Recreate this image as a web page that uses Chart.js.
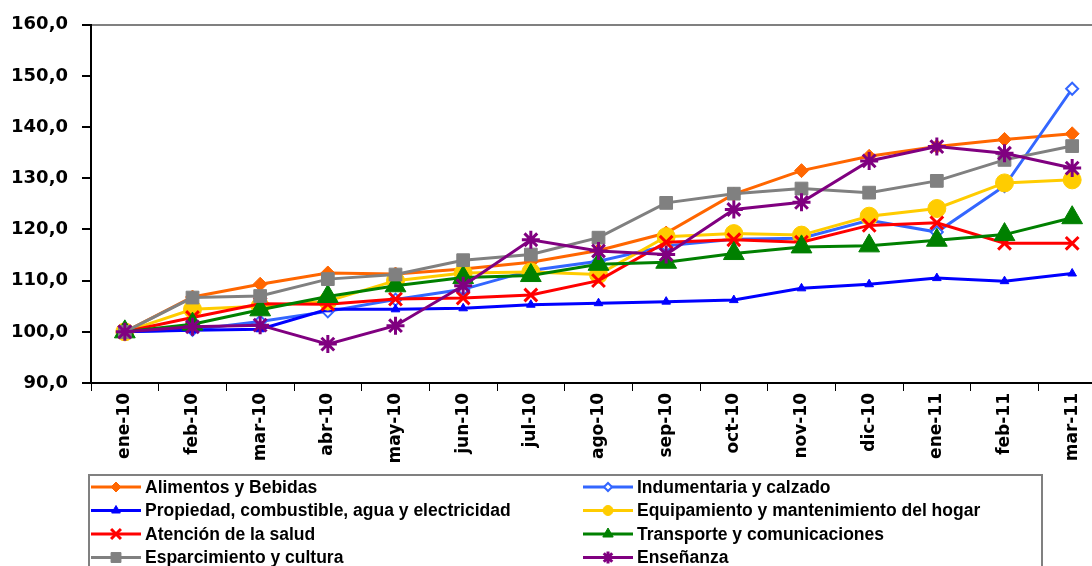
<!DOCTYPE html>
<html>
<head>
<meta charset="utf-8">
<script src="https://cdn.jsdelivr.net/npm/chart.js@4/dist/chart.umd.min.js"></script>
<style>
  html, body { margin: 0; padding: 0; background: #fff; overflow: hidden; }
  #wrap { position: absolute; left: 0; top: 0; width: 1120px; height: 566px; }
</style>
</head>
<body>
<div id="wrap"><canvas id="chart"></canvas></div>
<script>
const months = ['ene-10', 'feb-10', 'mar-10', 'abr-10', 'may-10', 'jun-10', 'jul-10', 'ago-10',
  'sep-10', 'oct-10', 'nov-10', 'dic-10', 'ene-11', 'feb-11', 'mar-11'];

const alimentos    = [100, 106.8, 109.3, 111.5, 111.3, 112.3, 113.6, 115.9, 119.3, 126.9, 131.5, 134.3, 136.2, 137.6, 138.7];
const indumentaria = [100, 100.4, 102.0, 104.0, 106.3, 108.3, 112.0, 113.8, 116.8, 118.1, 118.3, 121.8, 119.5, 128.5, 147.5];
const propiedad    = [100, 100.3, 100.5, 104.4, 104.4, 104.6, 105.3, 105.6, 105.9, 106.2, 108.5, 109.3, 110.5, 109.9, 111.4];
const equipamiento = [100, 104.4, 105.0, 106.0, 110.0, 111.5, 111.7, 111.2, 118.6, 119.2, 118.9, 122.6, 124.1, 129.1, 129.7];
const salud        = [100, 102.8, 105.5, 105.4, 106.4, 106.6, 107.2, 110.0, 117.5, 118.0, 117.5, 120.8, 121.3, 117.3, 117.3];
const transporte   = [100, 101.5, 104.3, 106.9, 109.0, 110.6, 111.0, 113.2, 113.6, 115.3, 116.6, 116.8, 117.9, 119.0, 122.3];
const esparcimiento = [100, 106.7, 107.0, 110.3, 111.2, 114.0, 115.1, 118.4, 125.2, 127.0, 128.0, 127.2, 129.5, 133.6, 136.3];
const ensenanza    = [100, 101.0, 101.3, 97.6, 101.2, 109.0, 118.0, 115.8, 115.1, 123.9, 125.3, 133.4, 136.2, 134.9, 132.0];

const yMin = 90;
const yMax = 160;
const yStep = 10;

function series(label, data, color, style, radius, fill, bw, legendRadius) {
  return {
    label: label,
    data: data,
    borderColor: color,
    backgroundColor: color,
    borderWidth: 3,
    pointStyle: style,
    pointRadius: radius,
    pointHoverRadius: radius,
    pointBackgroundColor: fill,
    pointBorderColor: color,
    pointBorderWidth: bw,
    legendRadius: legendRadius,
    tension: 0
  };
}

const datasets = [
  series('Alimentos y Bebidas', alimentos, '#FF6600', 'rectRot', 7, '#FF6600', 1, 5),
  series('Indumentaria y calzado', indumentaria, '#3366FF', 'rectRot', 6, '#FFFFFF', 2, 4),
  series('Propiedad, combustible, agua y electricidad', propiedad, '#0000FF', 'triangle', 5, '#0000FF', 1, 5),
  series('Equipamiento y mantenimiento del hogar', equipamiento, '#FFCC00', 'circle', 9, '#FFCC00', 1, 5),
  series('Atención de la salud', salud, '#FF0000', 'crossRot', 9, '#FF0000', 3, 7),
  series('Transporte y comunicaciones', transporte, '#008000', 'triangle', 12, '#008000', 1, 6),
  series('Esparcimiento y cultura', esparcimiento, '#808080', 'rect', 9, '#808080', 1, 7),
  series('Enseñanza', ensenanza, '#800080', 'star', 9, '#800080', 3, 6)
];
// later series painted on top, as in the original
datasets.forEach((d, i) => { d.order = datasets.length - i; });

// two-column legend in a box under the axis
const legendBox = {
  id: 'legendBox',
  afterDraw(chart) {
    const ctx = chart.ctx;
    ctx.save();
    ctx.strokeStyle = '#808080';
    ctx.lineWidth = 2;
    ctx.strokeRect(89, 475, 953, 120);
    ctx.font = 'bold 17.5px "Liberation Sans", Arial, sans-serif';
    ctx.textBaseline = 'middle';
    ctx.textAlign = 'left';
    chart.data.datasets.forEach((ds, i) => {
      const col = i % 2;
      const row = Math.floor(i / 2);
      const x0 = col ? 583 : 91;
      const y = 487 + row * 23.5;
      ctx.strokeStyle = ds.borderColor;
      ctx.lineWidth = 3;
      ctx.beginPath();
      ctx.moveTo(x0, y);
      ctx.lineTo(x0 + 50, y);
      ctx.stroke();
      ctx.fillStyle = ds.pointBackgroundColor;
      ctx.strokeStyle = ds.borderColor;
      ctx.lineWidth = ds.pointBorderWidth;
      Chart.helpers.drawPoint(ctx, {
        pointStyle: ds.pointStyle,
        radius: ds.legendRadius,
        borderWidth: ds.pointBorderWidth,
        rotation: 0
      }, x0 + 25, y);
      ctx.fillStyle = '#000';
      ctx.fillText(ds.label, x0 + 54, y + 1);
    });
    ctx.restore();
  }
};

new Chart(document.getElementById('chart'), {
  type: 'line',
  data: { labels: months, datasets: datasets },
  options: {
    responsive: true,
    maintainAspectRatio: false,
    animation: false,
    layout: { padding: { top: 23, right: 14, bottom: 96, left: 0 } },
    plugins: {
      legend: { display: false },
      tooltip: { enabled: false }
    },
    scales: {
      x: {
        offset: true,
        grid: {
          offset: true,
          drawOnChartArea: false,
          drawTicks: true,
          tickLength: 8,
          tickColor: '#000',
          lineWidth: 1
        },
        border: { color: '#000', width: 2 },
        ticks: {
          color: '#000',
          minRotation: 90,
          maxRotation: 90,
          padding: 2,
          autoSkip: false,
          font: { family: '"DejaVu Sans"', weight: 'bold', size: 17 }
        },
        afterFit(scale) { scale.height = 87; }
      },
      y: {
        min: yMin,
        max: yMax,
        grid: {
          drawOnChartArea: true,
          color: (c) => (c.tick && c.tick.value === yMax ? '#808080' : 'rgba(0,0,0,0)'),
          lineWidth: 2,
          tickColor: '#000',
          tickLength: 9
        },
        border: { color: '#000', width: 2 },
        ticks: {
          stepSize: yStep,
          color: '#000',
          padding: 14,
          font: { family: '"DejaVu Sans"', weight: 'bold', size: 18 },
          callback: (v) => v.toFixed(1).replace('.', ',')
        },
        afterFit(scale) { scale.width = 91; }
      }
    }
  },
  plugins: [legendBox]
});
</script>
</body>
</html>
